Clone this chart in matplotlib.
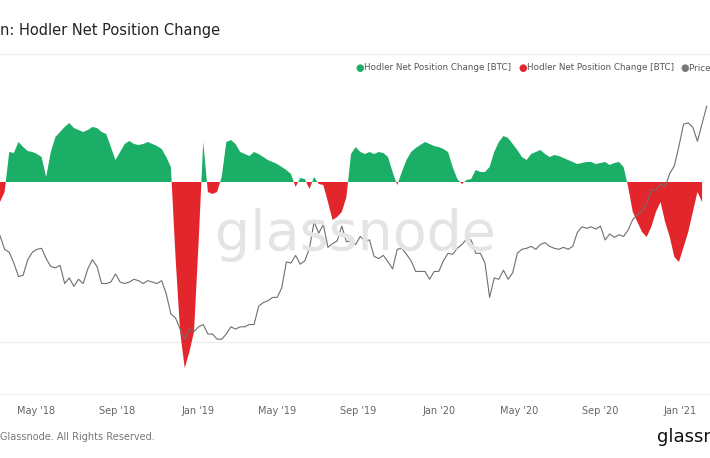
import numpy as np
import pandas as pd
import matplotlib.pyplot as plt
import matplotlib.dates as mdates

# weekly hodler net position change, thousand BTC (from 2018-03-07)
net_k = [-40, -20, 60, 58, 80, 70, 62, 60, 56, 50, 10, 60, 90, 100, 110, 118, 108, 104, 100, 104,
         110, 108, 100, 96, 70, 44, 60, 76, 82, 76, 74, 76, 80, 76, 72, 66, 50, 30, -150, -300,
         -372, -340, -300, -120, 80, -20, -24, -20, 10, 80, 84, 76, 60, 56, 52, 60, 56, 50, 44, 40,
         36, 30, 24, 16, -10, 8, 6, -14, 10, -4, -6, -40, -76, -70, -60, -30, 56, 70, 60, 56,
         60, 56, 60, 58, 50, 20, -6, 20, 44, 60, 68, 74, 80, 76, 72, 70, 66, 60, 30, 6,
         -4, 4, 6, 24, 20, 20, 30, 60, 80, 92, 88, 76, 64, 50, 44, 56, 60, 64, 56, 50,
         54, 52, 48, 44, 40, 36, 38, 40, 40, 36, 38, 40, 34, 38, 40, 30, -10, -60, -80, -100,
         -110, -90, -60, -40, -80, -110, -150, -160, -130, -100, -60, -20, -40]

# weekly BTC price, thousand USD
price_k = [10.7, 9.2, 8.9, 7.9, 6.8, 6.9, 8.2, 8.9, 9.2, 9.3, 8.3, 7.6, 7.5, 7.7, 6.3, 6.7, 6.1, 6.6, 6.3, 7.4,
           8.2, 7.6, 6.3, 6.3, 6.4, 7.0, 6.4, 6.3, 6.4, 6.6, 6.5, 6.3, 6.5, 6.4, 6.3, 6.5, 5.6, 4.5, 4.3, 3.8,
           3.4, 3.8, 3.7, 3.9, 4.0, 3.6, 3.6, 3.4, 3.4, 3.6, 3.9, 3.8, 3.9, 3.9, 4.0, 4.0, 4.9, 5.1, 5.2, 5.4,
           5.4, 6.0, 8.0, 7.9, 8.6, 7.8, 8.1, 9.3, 12.5, 11.0, 12.1, 9.4, 9.8, 10.1, 11.9, 10.0, 10.1, 9.7, 10.6, 10.1,
           10.2, 8.5, 8.3, 8.6, 8.0, 7.4, 9.2, 9.3, 8.7, 8.1, 7.2, 7.2, 7.2, 6.6, 7.2, 7.2, 8.1, 8.8, 8.7, 9.3,
           9.7, 10.3, 10.2, 8.8, 8.8, 7.9, 5.4, 6.7, 6.6, 7.3, 6.6, 7.1, 8.8, 9.2, 9.3, 9.5, 9.2, 9.7, 9.9, 9.5,
           9.3, 9.2, 9.4, 9.2, 9.5, 11.1, 11.8, 11.6, 11.8, 11.5, 11.9, 10.2, 10.9, 10.5, 10.8, 10.6, 11.4, 12.8, 13.5, 14.1,
           15.3, 17.8, 17.7, 19.0, 18.3, 21.3, 23.2, 28.9, 36.8, 37.3, 35.5, 30.4, 37.0, 44.8]

tick_dates = ["2018-05-01", "2018-09-01", "2019-01-01", "2019-05-01", "2019-09-01",
              "2020-01-01", "2020-05-01", "2020-09-01", "2021-01-01"]
tick_labels = ["May '18", "Sep '18", "Jan '19", "May '19", "Sep '19",
               "Jan '20", "May '20", "Sep '20", "Jan '21"]

net_dates = pd.date_range("2018-03-07", periods=len(net_k), freq="7D")
price_dates = pd.date_range("2018-03-07", periods=len(price_k), freq="7D")
net = np.array(net_k) * 1000

GREEN = "#1aae66"
RED = "#e3262b"

fig = plt.figure(figsize=(7.1, 4.58), dpi=100)
ax = fig.add_axes([0, 63 / 458, 1, 335 / 458])
ax.fill_between(net_dates, net, 0, where=net >= 0, interpolate=True, color=GREEN, lw=0)
ax.fill_between(net_dates, net, 0, where=net <= 0, interpolate=True, color=RED, lw=0)
ax.set_ylim(-426000, 244000)
ax.set_xlim(pd.Timestamp("2018-03-07"), pd.Timestamp("2021-02-15"))
for s in ax.spines.values():
    s.set_visible(False)
ax.set_yticks([])
ax.axhline(-426000 + 53 * 2000, color="#ececec", lw=0.8, zorder=0)
ax.axhline(-426000, color="#ececec", lw=1.2, zorder=0)
ax.set_xticks(pd.to_datetime(tick_dates))
ax.set_xticklabels(tick_labels, fontsize=7, color="#666666")
ax.tick_params(axis="x", length=0, pad=8)

ax2 = ax.twinx()
ax2.plot(price_dates, np.array(price_k) * 1000, color="#6f6f6f", lw=0.8)
ax2.set_yscale("log")
ax2.set_ylim(1833, 74800)
ax2.set_yticks([])
ax2.minorticks_off()
for s in ax2.spines.values():
    s.set_visible(False)

fig.text(0.5, 0.487, "glassnode", fontsize=40, color="#e4e4e4", ha="center", va="center",
         zorder=0)
fig.text(0.0, 1 - 30 / 458, "n: Hodler Net Position Change", fontsize=10.5, color="#222222",
         va="center")
fig.add_artist(plt.Line2D([0, 1], [1 - 54 / 458] * 2, color="#ececec", lw=0.8))
fig.text(0.0, 1 - 437 / 458, "Glassnode. All Rights Reserved.", fontsize=7, color="#777777",
         va="center")
fig.text(657 / 710, 1 - 437 / 458, "glassnode", fontsize=13, color="#111111", va="center")

legend = [(355, GREEN, "Hodler Net Position Change [BTC]"),
          (518, RED, "Hodler Net Position Change [BTC]"),
          (680, "#777777", "Price [USD]")]
for x, c, t in legend:
    fig.text(x / 710, 1 - 68 / 458, "\u25cf", color=c, fontsize=7, va="center")
    fig.text((x + 9) / 710, 1 - 68 / 458, t, color="#555555", fontsize=6.3, va="center")

fig.savefig("out.png", dpi=100)
